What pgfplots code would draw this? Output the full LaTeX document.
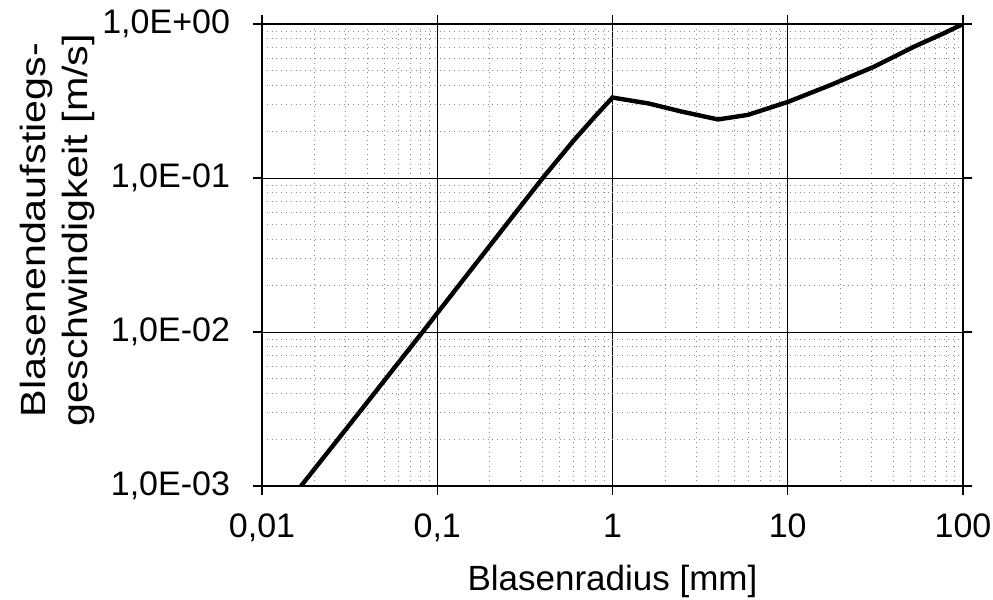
\documentclass[border=0pt]{standalone}
\usepackage{fontspec}
\setmainfont{Liberation Sans}
\usepackage{pgfplots}
\pgfplotsset{compat=1.18}
\begin{document}
\begin{tikzpicture}
\begin{loglogaxis}[
  name=ax,
  scale only axis,
  width=350.5pt, height=231pt,
  xmin=0.01, xmax=100, ymin=0.001, ymax=1,
  xtick={0.01,0.1,1,10,100},
  xticklabels={{0,01},{0,1},1,10,100},
  ytick={0.001,0.01,0.1,1},
  yticklabels={{1,0E-03},{1,0E-02},{1,0E-01},{1,0E+00}},
  tick align=outside,
  major tick length=4.5pt, minor tick length=0pt,
  grid=both,
  major grid style={black, line width=0.5pt},
  minor grid style={black!45, dotted, line width=0.5pt},
  axis line style={line width=0.8pt},
  tick style={black, line width=0.6pt},
  tick label style={font=\fontsize{17}{20}\selectfont},
  xticklabel shift=6pt,
  yticklabel shift=8pt,
  xlabel={Blasenradius [mm]},
  ylabel={\scalebox{1.18}[1]{Blasenendaufstiegs-}\\\scalebox{1.18}[1]{geschwindigkeit [m/s]}},
  label style={font=\fontsize{17.5}{21}\selectfont},
  xlabel style={at={(axis description cs:0.5,-0.227)}, anchor=base},
  ylabel style={at={(axis description cs:-0.292,0.554)}, anchor=center, align=center},
]
\addplot[black, line width=2.2pt] coordinates {
  (0.0167,0.001) (0.0316,0.0025) (0.0825,0.0100) (0.145,0.0228)
  (0.25,0.0505) (0.40,0.100) (0.60,0.175) (0.80,0.253) (1.0,0.333)
  (1.60,0.305) (2.48,0.270) (4.0,0.240) (5.93,0.257) (10.1,0.313)
  (17.6,0.402) (31.1,0.528) (52.5,0.712) (77.7,0.870) (100,1.0)
};
\end{loglogaxis}
\pgfresetboundingbox
\path[use as bounding box] (ax.south west) ++(-131pt,-57pt) rectangle ++(496.5pt,300pt);
\end{tikzpicture}
\end{document}
